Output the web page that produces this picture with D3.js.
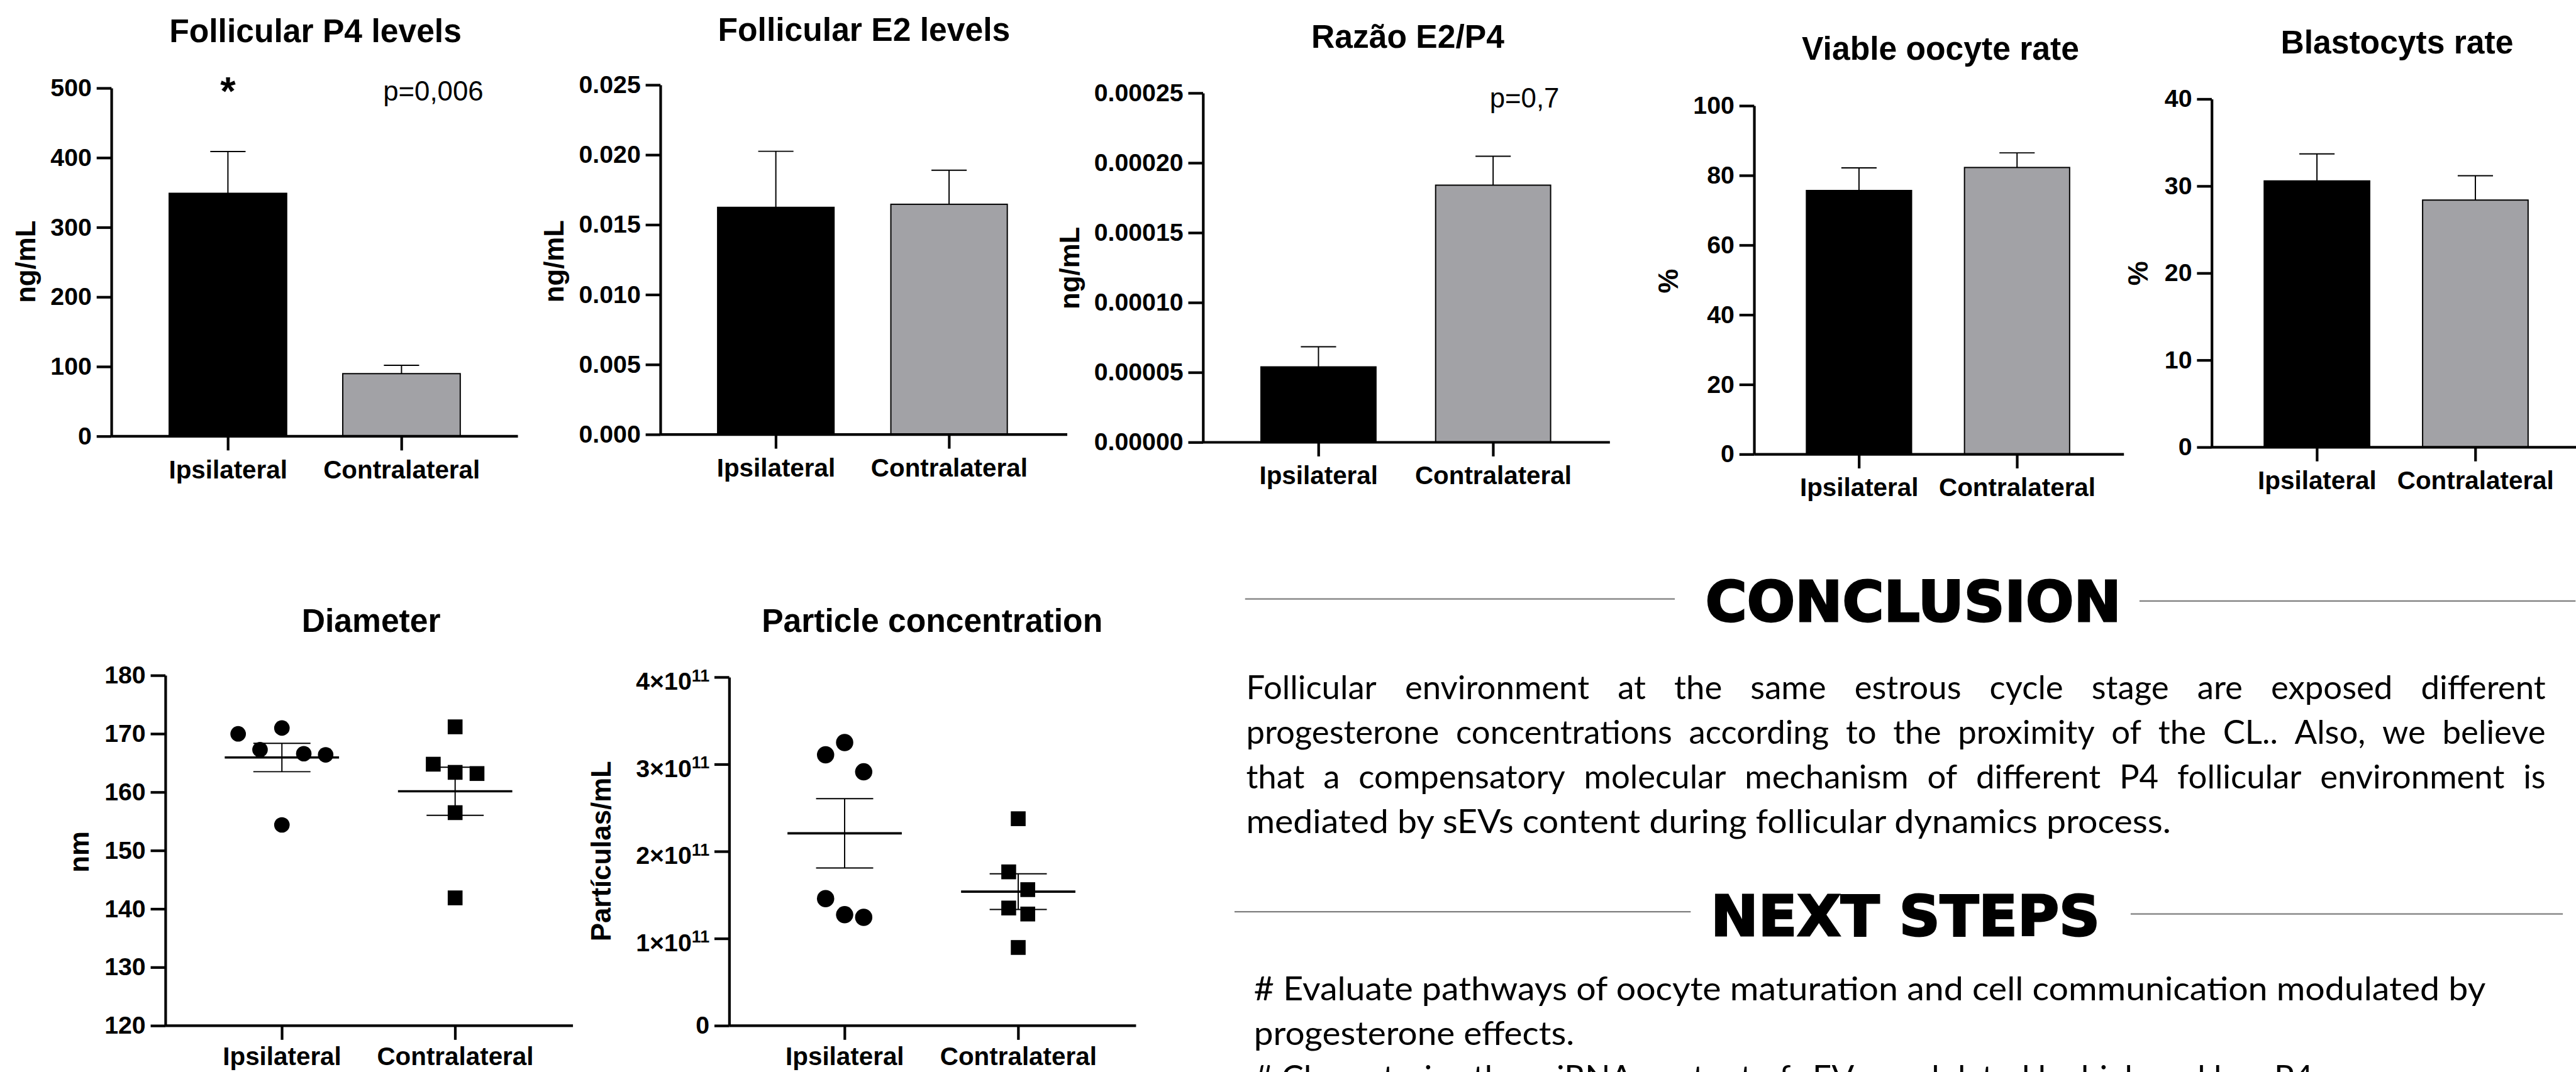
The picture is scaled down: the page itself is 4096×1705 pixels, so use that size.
<!DOCTYPE html>
<html><head><meta charset="utf-8">
<script src="https://cdn.jsdelivr.net/npm/d3@7"></script>
<style>html,body{margin:0;padding:0;background:#fff;overflow:hidden}</style>
</head><body>
<svg id="chart" width="4096" height="1705" xmlns="http://www.w3.org/2000/svg"></svg>
<script>
// ---------------- DATA ----------------
const categories = ["Ipsilateral", "Contralateral"];

const p4Mean = [349, 90];
const p4Sem = [60, 12];
const p4Ticks = [0, 100, 200, 300, 400, 500];

const e2Mean = [0.01625, 0.01647];
const e2Sem = [0.00401, 0.00243];
const e2Ticks = [0, 0.005, 0.010, 0.015, 0.020, 0.025];

const ratioMean = [0.0000540, 0.0001841];
const ratioSem = [0.0000144, 0.0000207];
const ratioTicks = [0, 0.00005, 0.00010, 0.00015, 0.00020, 0.00025];

const viableMean = [75.7, 82.3];
const viableSem = [6.5, 4.2];
const viableTicks = [0, 20, 40, 60, 80, 100];

const blastoMean = [30.6, 28.4];
const blastoSem = [3.1, 2.8];
const blastoTicks = [0, 10, 20, 30, 40];

const diameterIpsi = [170.0, 167.3, 171.0, 166.6, 166.4, 154.4];
const diameterContra = [171.2, 164.8, 163.4, 163.2, 156.5, 141.9];
const diameterTicks = [120, 130, 140, 150, 160, 170, 180];

const particleIpsi = [3.109e11, 3.251e11, 2.914e11, 1.459e11, 1.274e11, 1.244e11];
const particleContra = [2.376e11, 1.766e11, 1.562e11, 1.351e11, 1.282e11, 0.898e11];
const particleTicks = [0, 1e11, 2e11, 3e11, 4e11];

const conclusionTitle = "CONCLUSION";
const conclusionLines = [
  "Follicular environment at the same estrous cycle stage are exposed different",
  "progesterone concentrations according to the proximity of the CL.. Also, we believe",
  "that a compensatory molecular mechanism of different P4 follicular environment is",
  "mediated by sEVs content during follicular dynamics process."
];
const nextTitle = "NEXT STEPS";
const nextLines = [
  "# Evaluate pathways of oocyte maturation and cell communication modulated by",
  "progesterone effects.",
  "# Characterize the miRNA content of sEVs modulated by high and low P4"
];

// ---------------- SETUP ----------------
const S = 0.561;
const svg = d3.select("#chart");
svg.append("rect").attr("width", 4096).attr("height", 1705).attr("fill", "#fff");
const root = svg.append("g").attr("transform", `scale(${S})`);
const FONT = "'Liberation Sans', Arial, Helvetica, sans-serif";
const GRAY = "#a2a2a6";

function styleAxis(g, fontSize) {
  g.attr("font-family", FONT).attr("font-size", fontSize).attr("font-weight", "bold");
  g.selectAll("path.domain").attr("stroke", "#000").attr("stroke-width", 7.5);
  g.selectAll(".tick line").attr("stroke", "#000").attr("stroke-width", 7.5);
  g.selectAll(".tick text").attr("fill", "#000");
}

function frame(cfg, y, x) {
  const g = root.append("g");
  g.append("text").attr("x", cfg.titleX).attr("y", cfg.titleY)
    .attr("text-anchor", "middle").attr("font-family", FONT).attr("font-weight", "bold")
    .attr("font-size", 92).text(cfg.title);
  g.append("text").attr("transform", `translate(${cfg.yLabelX},${cfg.yLabelY}) rotate(-90)`)
    .attr("text-anchor", "middle").attr("font-family", FONT).attr("font-weight", "bold")
    .attr("font-size", 78).text(cfg.yLabel);
  const yBase = y(cfg.domain[0]);
  g.append("line").attr("x1", cfg.axisX).attr("x2", cfg.xEnd).attr("y1", yBase).attr("y2", yBase)
    .attr("stroke", "#000").attr("stroke-width", 7.5);
  const gx = g.append("g").attr("transform", `translate(0,${yBase})`)
    .call(d3.axisBottom(x).tickSize(40).tickPadding(cfg.xPad || 28).tickSizeOuter(0));
  gx.select("path.domain").remove();
  styleAxis(gx, 72);
  const gy = g.append("g").attr("transform", `translate(${cfg.axisX},0)`)
    .call(d3.axisLeft(y).tickValues(cfg.ticks).tickFormat(cfg.fmt).tickSize(42).tickPadding(14).tickSizeOuter(0));
  styleAxis(gy, 70);
  return {g, gy};
}

function barPanel(cfg) {
  const y = d3.scaleLinear().domain(cfg.domain).range([cfg.y0, cfg.yTop]);
  const x = d3.scalePoint().domain(categories).range([cfg.c1, cfg.c2]);
  const data = categories.map((c, i) => ({c, m: cfg.means[i], s: cfg.sems[i], i}));
  const gb = root.append("g");
  gb.selectAll("line.err").data(data).join("line").attr("class", "err")
    .attr("x1", d => x(d.c)).attr("x2", d => x(d.c))
    .attr("y1", d => y(d.m)).attr("y2", d => y(d.m + d.s))
    .attr("stroke", "#000").attr("stroke-width", 3.5);
  gb.selectAll("line.cap").data(data).join("line").attr("class", "cap")
    .attr("x1", d => x(d.c) - 50).attr("x2", d => x(d.c) + 50)
    .attr("y1", d => y(d.m + d.s)).attr("y2", d => y(d.m + d.s))
    .attr("stroke", "#000").attr("stroke-width", 3.5);
  gb.selectAll("rect").data(data).join("rect")
    .attr("x", d => x(d.c) - cfg.barW / 2).attr("width", cfg.barW)
    .attr("y", d => y(d.m)).attr("height", d => y(cfg.domain[0]) - y(d.m))
    .attr("fill", d => d.i === 0 ? "#000" : GRAY)
    .attr("stroke", "#000").attr("stroke-width", 3.5);
  const f = frame(cfg, y, x);
  return {y, x, g: f.g};
}

function spread(values, y, D, step) {
  const idx = d3.range(values.length).sort((a, b) => values[b] - values[a]);
  const clusters = [];
  let cur = [idx[0]];
  for (let k = 1; k < idx.length; k++) {
    const gap = Math.abs(y(values[idx[k]]) - y(values[idx[k - 1]]));
    if (gap < D) cur.push(idx[k]); else { clusters.push(cur); cur = [idx[k]]; }
  }
  clusters.push(cur);
  const off = new Array(values.length).fill(0);
  clusters.forEach(c => {
    c.sort((a, b) => a - b);
    c.forEach((id, i) => { off[id] = (i - (c.length - 1) / 2) * step; });
  });
  return off;
}

function dotPanel(cfg) {
  const y = d3.scaleLinear().domain(cfg.domain).range([cfg.y0, cfg.yTop]);
  const x = d3.scalePoint().domain(categories).range([cfg.c1, cfg.c2]);
  const f = frame(cfg, y, x);
  const gd = root.append("g");
  cfg.groups.forEach((vals, gi) => {
    const cx = x(categories[gi]);
    const m = d3.mean(vals);
    const sem = d3.deviation(vals) / Math.sqrt(vals.length);
    gd.append("line").attr("x1", cx - 162).attr("x2", cx + 162).attr("y1", y(m)).attr("y2", y(m))
      .attr("stroke", "#000").attr("stroke-width", 6.5);
    gd.append("line").attr("x1", cx).attr("x2", cx).attr("y1", y(m - sem)).attr("y2", y(m + sem))
      .attr("stroke", "#000").attr("stroke-width", 3.5);
    [m - sem, m + sem].forEach(v => {
      gd.append("line").attr("x1", cx - 81).attr("x2", cx + 81).attr("y1", y(v)).attr("y2", y(v))
        .attr("stroke", "#000").attr("stroke-width", 3.5);
    });
    const off = spread(vals, y, cfg.D, cfg.step);
    const pts = vals.map((v, i) => ({v, dx: off[i]}));
    if (gi === 0) {
      gd.selectAll(null).data(pts).join("circle")
        .attr("cx", d => cx + d.dx).attr("cy", d => y(d.v)).attr("r", cfg.r).attr("fill", "#000");
    } else {
      gd.selectAll(null).data(pts).join("rect")
        .attr("x", d => cx + d.dx - cfg.sq / 2).attr("y", d => y(d.v) - cfg.sq / 2)
        .attr("width", cfg.sq).attr("height", cfg.sq).attr("fill", "#000");
    }
  });
  return {y, x, g: f.g, gy: f.gy};
}

// ---------------- PANELS ----------------
const p1 = barPanel({title: "Follicular P4 levels", titleX: 894, titleY: 120, yLabel: "ng/mL", yLabelX: 100, yLabelY: 742,
  axisX: 316, yTop: 250, y0: 1237, xEnd: 1468, c1: 646, c2: 1138, barW: 333,
  domain: [0, 500], ticks: p4Ticks, fmt: d3.format("d"), means: p4Mean, sems: p4Sem});
p1.g.append("text").attr("x", p1.x(categories[0])).attr("y", 296).attr("text-anchor", "middle")
  .attr("font-family", FONT).attr("font-weight", "bold").attr("font-size", 112).text("*");
p1.g.append("text").attr("x", 1228).attr("y", 286).attr("text-anchor", "middle")
  .attr("font-family", FONT).attr("font-size", 78).text("p=0,006");

barPanel({title: "Follicular E2 levels", titleX: 2449, titleY: 116, yLabel: "ng/mL", yLabelX: 1597, yLabelY: 741,
  axisX: 1872, yTop: 241, y0: 1232, xEnd: 3025, c1: 2199, c2: 2690, barW: 330,
  domain: [0, 0.025], ticks: e2Ticks, fmt: d3.format(".3f"), means: e2Mean, sems: e2Sem});

const p3 = barPanel({title: "Razão E2/P4", titleX: 3990, titleY: 136, yLabel: "ng/mL", yLabelX: 3058, yLabelY: 760,
  axisX: 3410, yTop: 264, y0: 1254, xEnd: 4563, c1: 3737, c2: 4232, barW: 326,
  domain: [0, 0.00025], ticks: ratioTicks, fmt: d3.format(".5f"), means: ratioMean, sems: ratioSem});
p3.g.append("text").attr("x", 4321).attr("y", 304).attr("text-anchor", "middle")
  .attr("font-family", FONT).attr("font-size", 78).text("p=0,7");

barPanel({title: "Viable oocyte rate", titleX: 5500, titleY: 170, yLabel: "%", yLabelX: 4755, yLabelY: 797,
  axisX: 4972, yTop: 300, y0: 1288, xEnd: 6020, c1: 5269, c2: 5717, barW: 298,
  domain: [0, 100], ticks: viableTicks, fmt: d3.format("d"), means: viableMean, sems: viableSem});

barPanel({title: "Blastocyts rate", titleX: 6794, titleY: 152, yLabel: "%", yLabelX: 6088, yLabelY: 775,
  axisX: 6269, yTop: 281, y0: 1268, xEnd: 7310, c1: 6567, c2: 7016, barW: 299,
  domain: [0, 40], ticks: blastoTicks, fmt: d3.format("d"), means: blastoMean, sems: blastoSem});

dotPanel({title: "Diameter", titleX: 1052, titleY: 1792, yLabel: "nm", yLabelX: 252, yLabelY: 2415,
  axisX: 469, yTop: 1915, y0: 2908, xEnd: 1624, c1: 799, c2: 1290, xPad: 21,
  domain: [120, 180], ticks: diameterTicks, fmt: d3.format("d"),
  groups: [diameterIpsi, diameterContra], D: 47, step: 62, r: 22, sq: 42});

const p7 = dotPanel({title: "Particle concentration", titleX: 2642, titleY: 1792, yLabel: "Partículas/mL", yLabelX: 1730, yLabelY: 2413,
  axisX: 2067, yTop: 1920, y0: 2908, xEnd: 3220, c1: 2394, c2: 2886, xPad: 21,
  domain: [0, 4e11], ticks: particleTicks, fmt: d3.format("d"),
  groups: [particleIpsi, particleContra], D: 51.2, step: 54, r: 24.5, sq: 42});
p7.gy.selectAll(".tick text").each(function(d) {
  const t = d3.select(this);
  t.text(null);
  if (d === 0) { t.text("0"); return; }
  t.attr("dy", "0.5em");
  t.append("tspan").text(`${d / 1e11}×10`);
  t.append("tspan").attr("dy", -24).attr("font-size", 48).text("11");
});

// ---------------- TEXT BLOCK ----------------
const TFONT = "Lato, 'Open Sans', sans-serif";
const HFONT = "'DejaVu Sans', Verdana, sans-serif";
const tb = root.append("g");

function heading(txt, x, y, len, lineL, lineR) {
  tb.append("line").attr("x1", lineL[0]).attr("x2", lineL[1]).attr("y1", lineL[2]).attr("y2", lineL[2])
    .attr("stroke", "#7f7f7f").attr("stroke-width", 4);
  tb.append("line").attr("x1", lineR[0]).attr("x2", lineR[1]).attr("y1", lineR[2]).attr("y2", lineR[2])
    .attr("stroke", "#7f7f7f").attr("stroke-width", 4);
  tb.append("text").attr("x", x).attr("y", y).attr("font-family", HFONT).attr("font-weight", "bold")
    .attr("font-size", 158).attr("textLength", len).attr("lengthAdjust", "spacingAndGlyphs")
    .attr("stroke", "#000").attr("stroke-width", 5).attr("fill", "#000").text(txt);
}
heading(conclusionTitle, 4834, 1762, 1178, [3529, 4747, 1698], [6064, 7300, 1704]);
heading(nextTitle, 4849, 2652, 1103, [3499, 4792, 2585], [6039, 7264, 2591]);

const BODY = 94;
function measure(word) {
  const t = tb.append("text").attr("font-family", TFONT).attr("font-size", BODY).text(word);
  const w = t.node().getComputedTextLength();
  t.remove();
  return w;
}
function bodyLine(txt, x, y, opts) {
  const t = tb.append("text").attr("x", x).attr("y", y).attr("font-family", TFONT)
    .attr("font-size", BODY).attr("fill", "#000");
  if (opts.justify) {
    const words = txt.split(" ");
    const ws = words.map(measure);
    const gap = (opts.width - d3.sum(ws)) / (words.length - 1);
    let cx = x;
    words.forEach((w, i) => { t.append("tspan").attr("x", cx).text(w); cx += ws[i] + gap; });
  } else {
    t.text(txt);
    if (opts.width) t.attr("textLength", opts.width).attr("lengthAdjust", "spacingAndGlyphs");
  }
}
const conclX = 3532, conclW = 3683;
conclusionLines.forEach((l, i) => {
  bodyLine(l, conclX, 1983 + i * 126, i < 3 ? {justify: true, width: conclW} : {width: 2621});
});
const nextW = [3491, 908, null];
nextLines.forEach((l, i) => {
  bodyLine(l, 3554, 2836 + i * 126, {width: nextW[i]});
});
</script>
</body></html>
